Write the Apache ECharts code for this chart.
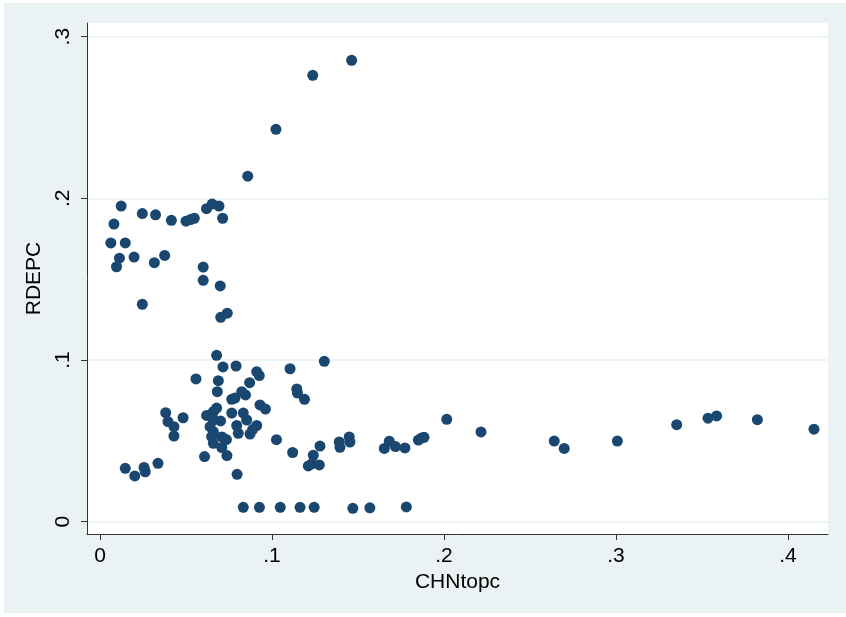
<!DOCTYPE html>
<html>
<head>
<meta charset="utf-8">
<script src="https://cdn.jsdelivr.net/npm/echarts@6/dist/echarts.min.js"></script>
<style>
html,body{margin:0;padding:0;background:#fff;}
#c{position:absolute;left:0;top:0;width:846px;height:617px;background:#eaf2f3;
box-shadow: inset 4px 3px 0 #fff, inset 0 -4px 0 #fff;}
</style>
</head>
<body>
<div id="c"></div>
<script>
// CHNtopc (x) values
const chnTopc = [
  0.1463, 0.1237, 0.1023, 0.0859,
  0.0123, 0.0081, 0.0246, 0.0323, 0.0415, 0.0500, 0.0526, 0.0548, 0.0619, 0.0652, 0.0692, 0.0713,
  0.0063, 0.0147, 0.0113, 0.0096, 0.0198, 0.0316, 0.0376, 0.0600, 0.0600, 0.0699, 0.0246, 0.0702, 0.0740,
  0.0678, 0.0715, 0.0791, 0.0558, 0.0688, 0.0682, 0.0911, 0.0926, 0.0870, 0.0824, 0.0846, 0.0766, 0.0785,
  0.0930, 0.0962, 0.0678, 0.0659, 0.0620, 0.0766, 0.0833, 0.0649, 0.0659, 0.0701, 0.0853, 0.0795, 0.0911,
  0.0887, 0.0640, 0.0659, 0.0804, 0.0872, 0.0649, 0.0709, 0.0735, 0.0659, 0.0708, 0.1026, 0.0608, 0.0738, 0.0797,
  0.1105, 0.1144, 0.1148, 0.1189, 0.1304, 0.1120, 0.1279, 0.1240, 0.1211, 0.1231, 0.1275,
  0.1391, 0.1395, 0.1449, 0.1453, 0.1653, 0.1682, 0.1718, 0.1773, 0.1851, 0.1870, 0.1884,
  0.2016, 0.2215, 0.2641, 0.2699, 0.3008, 0.3353, 0.3535, 0.3585, 0.3822, 0.4151,
  0.0833, 0.0927, 0.1048, 0.1163, 0.1245, 0.1470, 0.1569, 0.1781,
  0.0382, 0.0483, 0.0395, 0.0430, 0.0430, 0.0147, 0.0202, 0.0256, 0.0263, 0.0337
];
// RDEPC (y) values
const rdepc = [
  0.2854, 0.2761, 0.2427, 0.2137,
  0.1952, 0.1841, 0.1906, 0.1898, 0.1864, 0.1859, 0.1869, 0.1877, 0.1936, 0.1965, 0.1952, 0.1877,
  0.1724, 0.1724, 0.1630, 0.1577, 0.1637, 0.1602, 0.1647, 0.1575, 0.1493, 0.1458, 0.1345, 0.1264, 0.1290,
  0.1029, 0.0957, 0.0963, 0.0883, 0.0872, 0.0804, 0.0928, 0.0904, 0.0860, 0.0804, 0.0784, 0.0757, 0.0765,
  0.0722, 0.0697, 0.0703, 0.0680, 0.0657, 0.0672, 0.0672, 0.0649, 0.0629, 0.0623, 0.0629, 0.0595, 0.0595,
  0.0570, 0.0588, 0.0557, 0.0547, 0.0542, 0.0526, 0.0524, 0.0508, 0.0485, 0.0459, 0.0507, 0.0403, 0.0409, 0.0293,
  0.0946, 0.0821, 0.0796, 0.0757, 0.0992, 0.0428, 0.0468, 0.0411, 0.0345, 0.0357, 0.0351,
  0.0493, 0.0460, 0.0524, 0.0493, 0.0453, 0.0498, 0.0465, 0.0456, 0.0505, 0.0518, 0.0522,
  0.0633, 0.0555, 0.0499, 0.0453, 0.0499, 0.0600, 0.0640, 0.0654, 0.0631, 0.0572,
  0.0089, 0.0089, 0.0089, 0.0089, 0.0089, 0.0083, 0.0086, 0.0091,
  0.0674, 0.0643, 0.0619, 0.0588, 0.0530, 0.0330, 0.0283, 0.0336, 0.0309, 0.0361
];
const xTicks = [0, 0.1, 0.2, 0.3, 0.4];
const yTicks = [0, 0.1, 0.2, 0.3];
const xName = 'CHNtopc';
const yName = 'RDEPC';

function fmt(v){
  if (Math.abs(v) < 1e-9) return '0';
  return '.' + Math.round(v*10);
}

const points = chnTopc.map((x,i)=>[x, rdepc[i]]);
const font = "'Liberation Sans Narrow', 'Liberation Sans', Arial, sans-serif";
const chart = echarts.init(document.getElementById('c'), null, {renderer:'canvas'});
chart.setOption({
  backgroundColor: 'transparent',
  animation: false,
  grid: {left: 87, right: 18, top: 23, bottom: 83, show: true, backgroundColor: '#ffffff', borderWidth: 0, containLabel: false},
  xAxis: {
    type: 'value', min: -0.00756, max: 0.42326,
    name: xName, nameLocation: 'middle', nameGap: 36,
    nameTextStyle: {fontFamily: font, fontSize: 21, color: '#000'},
    axisLine: {show: true, onZero: false, lineStyle: {color: '#333', width: 1}},
    axisTick: {show: true, length: 6, inside: false, customValues: xTicks, lineStyle: {color: '#333'}},
    axisLabel: {customValues: xTicks, formatter: fmt, fontFamily: font, fontSize: 21, color: '#000', margin: 12},
    splitLine: {show: false}
  },
  yAxis: {
    type: 'value', min: -0.00761, max: 0.30847,
    name: yName, nameLocation: 'middle', nameGap: 39, nameRotate: 90,
    nameTextStyle: {fontFamily: font, fontSize: 21, color: '#000'},
    axisLine: {show: true, onZero: false, lineStyle: {color: '#333', width: 1}},
    axisTick: {show: true, length: 6, inside: false, customValues: yTicks, lineStyle: {color: '#333'}},
    axisLabel: {customValues: yTicks, formatter: fmt, fontFamily: font, fontSize: 21, color: '#000', rotate: 90, margin: 13},
    splitLine: {show: true, customValues: yTicks, lineStyle: {color: '#eaf2f3', width: 1.5}}
  },
  series: [{
    type: 'scatter',
    data: points,
    symbol: 'circle',
    symbolSize: 11,
    itemStyle: {color: '#1a476f', opacity: 1}
  }]
});
</script>
</body>
</html>
